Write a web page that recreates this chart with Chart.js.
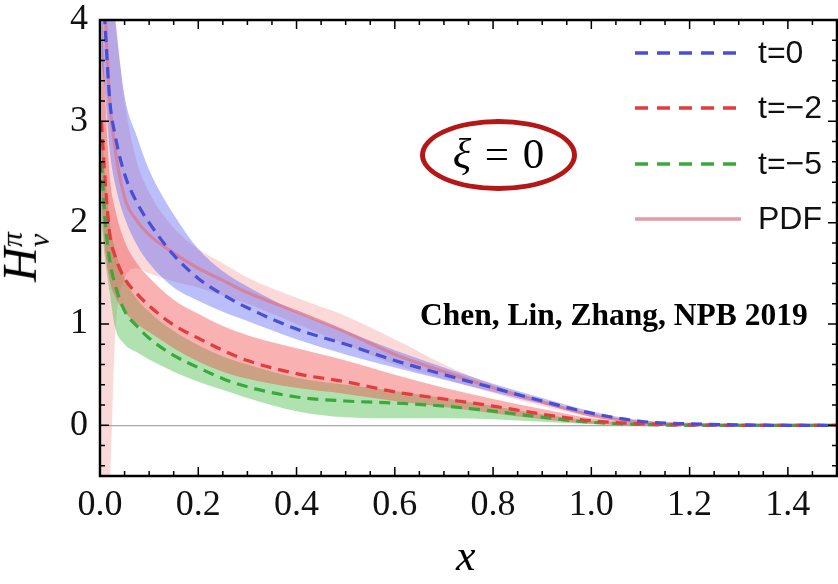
<!DOCTYPE html>
<html>
<head>
<meta charset="utf-8">
<script src="https://cdn.jsdelivr.net/npm/chart.js@4"></script>
<style>
  html, body { margin: 0; padding: 0; background: #fff; }
  #wrap { position: relative; width: 838px; height: 584px; overflow: hidden; }
  #chart { position: absolute; left: 0; top: 0; }
  .note { position: absolute; white-space: nowrap; color: #000; font-family: 'Liberation Serif', 'Times New Roman', serif; }
  #ytitle { left: -3px; top: 227px; font-size: 48px; transform: rotate(-90deg); transform-origin: center; }
  #ytitle .ss { display: inline-block; vertical-align: middle; line-height: 0.9; font-size: 30px; font-style: italic; }
  #xtitle { left: 456px; top: 530px; font-size: 44px; font-style: italic; }
  #xi { left: 420px; top: 119px; width: 157px; height: 72px; box-sizing: border-box; border: 5px solid #b51616; border-radius: 50%; text-align: center; font-size: 43px; line-height: 60px; word-spacing: 3px; }
  #cite { left: 420px; top: 297px; font-size: 31.5px; font-weight: bold; }
</style>
</head>
<body>
<div id="wrap">
  <canvas id="chart" width="838" height="584"></canvas>
  <div class="note" id="ytitle"><i>H</i><span class="ss">π<br>v</span></div>
  <div class="note" id="xtitle">x</div>
  <div class="note" id="xi"><i>ξ</i> = 0</div>
  <div class="note" id="cite">Chen, Lin, Zhang, NPB 2019</div>
</div>
<script>
// x positions of the sampled curves
const xGrid = [0.003, 0.01, 0.02, 0.03, 0.05, 0.075, 0.1, 0.15, 0.2, 0.25, 0.3, 0.4, 0.5, 0.6, 0.7, 0.8, 0.9, 1.0, 1.1, 1.2, 1.3, 1.4, 1.5];

// t=0
const t0Mid = [4.6, 3.98, 3.2, 2.88, 2.48, 2.2, 2.0, 1.68, 1.45, 1.29, 1.16, 0.95, 0.80, 0.64, 0.50, 0.37, 0.24, 0.12, 0.04, 0.015, 0.005, 0, 0];
const t0Hi = [6.0, 5.3, 4.6, 4.05, 3.25, 2.85, 2.52, 2.08, 1.74, 1.52, 1.37, 1.12, 0.93, 0.74, 0.57, 0.41, 0.27, 0.14, 0.05, 0.02, 0.01, 0.01, 0.01];
const t0Lo = [3.6, 3.3, 2.7, 2.4, 2.05, 1.78, 1.6, 1.36, 1.23, 1.12, 1.03, 0.85, 0.70, 0.57, 0.45, 0.33, 0.21, 0.10, 0.03, 0.005, 0, -0.005, -0.005];

// t=-2
const t2Mid = [3.0, 2.45, 1.88, 1.68, 1.45, 1.3, 1.18, 0.99, 0.86, 0.74, 0.64, 0.51, 0.43, 0.33, 0.26, 0.19, 0.11, 0.045, 0.015, 0.005, 0, 0, 0];
const t2Hi = [4.2, 3.3, 2.45, 2.15, 1.82, 1.6, 1.46, 1.24, 1.1, 0.98, 0.89, 0.76, 0.64, 0.5, 0.37, 0.26, 0.16, 0.07, 0.025, 0.01, 0.005, 0.005, 0.005];
const t2Lo = [2.2, 1.75, 1.42, 1.28, 1.12, 1.0, 0.92, 0.76, 0.63, 0.53, 0.46, 0.37, 0.31, 0.24, 0.18, 0.12, 0.06, 0.015, 0, -0.005, -0.005, -0.005, -0.005];

// t=-5
const t5Mid = [2.6, 2.05, 1.62, 1.4, 1.13, 0.98, 0.86, 0.69, 0.57, 0.46, 0.38, 0.28, 0.24, 0.22, 0.19, 0.14, 0.08, 0.03, 0.01, 0, 0, 0, 0];
const t5Hi = [3.0, 2.5, 2.0, 1.75, 1.45, 1.25, 1.12, 0.93, 0.79, 0.68, 0.6, 0.47, 0.4, 0.34, 0.27, 0.19, 0.11, 0.045, 0.015, 0.005, 0.005, 0.005, 0.005];
const t5Lo = [2.0, 1.65, 1.3, 0.98, 0.8, 0.72, 0.65, 0.53, 0.43, 0.35, 0.27, 0.14, 0.08, 0.07, 0.07, 0.06, 0.035, 0.01, 0, -0.005, -0.005, -0.005, -0.005];

// PDF
const pdfMid = [5.5, 4.2, 3.2, 2.75, 2.25, 2.02, 1.88, 1.7, 1.55, 1.43, 1.31, 1.12, 0.92, 0.70, 0.53, 0.37, 0.23, 0.1, 0.03, 0.01, 0, 0, 0];
const pdfHi = [6.5, 5.5, 4.6, 4.1, 3.2, 2.6, 2.3, 1.95, 1.74, 1.6, 1.46, 1.26, 1.08, 0.85, 0.6, 0.4, 0.25, 0.12, 0.04, 0.01, 0.005, 0.005, 0.005];
const pdfLo = [-0.7, -0.7, -0.55, 0.8, 1.45, 1.55, 1.5, 1.42, 1.36, 1.28, 1.2, 1.0, 0.8, 0.6, 0.46, 0.32, 0.19, 0.08, 0.02, 0, -0.005, -0.005, -0.005];

const xTickLabels = ['0.0', '0.2', '0.4', '0.6', '0.8', '1.0', '1.2', '1.4'];
const yTickLabels = ['0', '1', '2', '3', '4'];
const seriesLabels = ['t=0', 't=\u22122', 't=\u22125', 'PDF'];

const pts = arr => xGrid.map((x, i) => ({ x: x, y: arr[i] }));

function line(label, data, color, dash) {
    return {
        label: label,
        data: pts(data),
        borderColor: color,
        borderWidth: 3.2,
        borderDash: dash,
        pointRadius: 0,
        fill: false,
        cubicInterpolationMode: 'monotone'
    };
}

function band(hi, lo, color) {
    return [
        { data: pts(hi), borderColor: 'transparent', borderWidth: 0, backgroundColor: color, pointRadius: 0, fill: '+1', cubicInterpolationMode: 'monotone' },
        { data: pts(lo), borderColor: 'transparent', borderWidth: 0, pointRadius: 0, fill: false, cubicInterpolationMode: 'monotone' }
    ];
}

const datasets = [
    line(seriesLabels[0], t0Mid, 'rgb(72,78,215)', [11, 7]),
    line(seriesLabels[1], t2Mid, 'rgb(226,60,60)', [11, 7]),
    line(seriesLabels[2], t5Mid, 'rgb(58,168,58)', [11, 7]),
    line(seriesLabels[3], pdfMid, 'rgba(222,120,140,0.75)', []),
    ...band(t0Hi, t0Lo, 'rgba(90,100,245,0.42)'),
    ...band(t2Hi, t2Lo, 'rgba(240,70,70,0.42)'),
    ...band(t5Hi, t5Lo, 'rgba(80,190,80,0.45)'),
    ...band(pdfHi, pdfLo, 'rgba(240,120,120,0.28)')
];

// frame with inward ticks on all four sides
const framePlugin = {
    id: 'frame',
    afterDraw(chart) {
        const ctx = chart.ctx;
        const a = chart.chartArea;
        const xs = chart.scales.x;
        const ys = chart.scales.y;
        ctx.save();
        ctx.strokeStyle = '#000';
        ctx.lineWidth = 1.5;
        for (let i = 0; i <= 30; i++) {
            const px = xs.getPixelForValue(i * 0.05);
            const len = i % 4 === 0 ? 9 : 5;
            ctx.beginPath();
            ctx.moveTo(px, a.bottom); ctx.lineTo(px, a.bottom - len);
            ctx.moveTo(px, a.top); ctx.lineTo(px, a.top + len);
            ctx.stroke();
        }
        for (let i = -2; i <= 20; i++) {
            const py = ys.getPixelForValue(i * 0.2);
            const len = i % 5 === 0 ? 9 : 5;
            ctx.beginPath();
            ctx.moveTo(a.left, py); ctx.lineTo(a.left + len, py);
            ctx.moveTo(a.right, py); ctx.lineTo(a.right - len, py);
            ctx.stroke();
        }
        ctx.lineWidth = 2.5;
        ctx.strokeRect(a.left, a.top, a.right - a.left, a.bottom - a.top);
        ctx.restore();
    }
};

// legend drawn inside the plot, top right
const legendPlugin = {
    id: 'insideLegend',
    afterDraw(chart) {
        const ctx = chart.ctx;
        const rows = [53, 108, 164, 219];
        ctx.save();
        ctx.font = '32px "Liberation Sans", Arial, sans-serif';
        ctx.textBaseline = 'middle';
        for (let i = 0; i < 4; i++) {
            const ds = chart.data.datasets[i];
            ctx.strokeStyle = ds.borderColor;
            ctx.lineWidth = 3.5;
            ctx.setLineDash(ds.borderDash.length ? [13, 9] : []);
            ctx.beginPath();
            ctx.moveTo(635, rows[i]);
            ctx.lineTo(ds.borderDash.length ? 737 : 741, rows[i]);
            ctx.stroke();
            ctx.setLineDash([]);
            ctx.fillStyle = '#111';
            ctx.fillText(ds.label, 758, rows[i] + 1);
        }
        ctx.restore();
    }
};

new Chart(document.getElementById('chart'), {
    type: 'line',
    data: { datasets },
    options: {
        responsive: false,
        animation: false,
        events: [],
        layout: { padding: { top: 20, right: 1, left: 0, bottom: 0 } },
        plugins: {
            legend: { display: false },
            tooltip: { enabled: false },
            filler: { drawTime: 'beforeDatasetsDraw' }
        },
        scales: {
            x: {
                type: 'linear',
                min: 0,
                max: 1.5,
                afterFit(scale) {
                    scale.height = 108;
                    scale.paddingLeft = 0;
                    scale.paddingRight = 0;
                },
                border: { display: false },
                grid: { display: false },
                ticks: {
                    stepSize: 0.2,
                    includeBounds: false,
                    autoSkip: false,
                    maxRotation: 0,
                    padding: 0,
                    color: '#111',
                    font: { family: '"Liberation Serif", "Times New Roman", serif', size: 36 },
                    callback(v) {
                        const k = Math.round(v / 0.2);
                        return Math.abs(v - k * 0.2) < 1e-6 && k < xTickLabels.length ? xTickLabels[k] : '';
                    }
                }
            },
            y: {
                type: 'linear',
                min: -0.5,
                max: 4,
                afterFit(scale) {
                    scale.width = 100;
                    scale.paddingTop = 0;
                    scale.paddingBottom = 0;
                },
                border: { display: false },
                grid: {
                    drawTicks: false,
                    lineWidth: 1.2,
                    color: ctx => ctx.tick && ctx.tick.value === 0 ? '#a8a8a8' : 'transparent'
                },
                ticks: {
                    stepSize: 1,
                    includeBounds: false,
                    padding: 12,
                    color: '#111',
                    font: { family: '"Liberation Serif", "Times New Roman", serif', size: 36 },
                    callback(v) {
                        return Number.isInteger(v) && v >= 0 ? yTickLabels[v] : '';
                    }
                }
            }
        }
    },
    plugins: [framePlugin, legendPlugin]
});
</script>
</body>
</html>
